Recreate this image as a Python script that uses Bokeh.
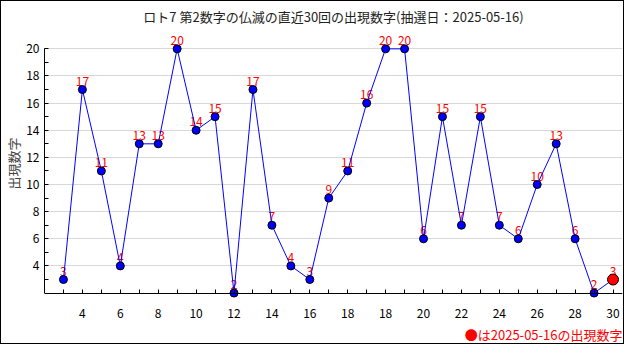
from bokeh.plotting import figure
from bokeh.models import FixedTicker, Title, Range1d, ColumnDataSource, LinearAxis
from bokeh.core.properties import value
from bokeh.embed import file_html
from bokeh.resources import INLINE

# ---- data ----
draw_index = list(range(1, 31))
numbers = [3, 17, 11, 4, 13, 13, 20, 14, 15, 2, 17, 7, 4, 3, 9, 11, 16, 20, 20, 6,
           15, 7, 15, 7, 6, 10, 13, 6, 2, 3]
x_tick_labels = ["4", "6", "8", "10", "12", "14", "16", "18", "18", "20",
                 "22", "24", "26", "28", "30"]
y_ticks = [4, 6, 8, 10, 12, 14, 16, 18, 20]
y_minor_ticks = [3, 5, 7, 9, 11, 13, 15, 17, 19]
title_text = "ロト7 第2数字の仏滅の直近30回の出現数字(抽選日：2025-05-16)"
note_text = "●は2025-05-16の出現数字"
y_label = "出現数字"

FONT = "Noto Sans CJK JP"

x_major = [draw_index[i] for i in range(1, len(draw_index), 2)]
x_minor = [draw_index[i] for i in range(0, len(draw_index), 2)]
Y_BASE = 2

p = figure(width=624, height=344,
           x_range=Range1d(0, 30.5), y_range=Range1d(1.6, 21.5),
           output_backend="svg", toolbar_location=None,
           min_border_left=28, min_border_right=3,
           min_border_top=22, min_border_bottom=46)
p.styles = {"border": "1px solid black"}
p.outline_line_color = None
p.background_fill_color = "white"
p.border_fill_color = "white"

# title
p.title.text = title_text
p.title.align = "center"
p.title.text_font = FONT
p.title.text_font_size = "13px"
p.title.text_font_style = "normal"
p.title.text_color = "#222222"
p.title.standoff = 6

# x axis line + ticks at the base value (inside the frame)
xa = p.xaxis[0]
xa.ticker = FixedTicker(ticks=x_major, minor_ticks=x_minor)
xa.fixed_location = Y_BASE
xa.major_label_text_font_size = "0px"
xa.major_label_text_color = None
xa.major_label_standoff = 0

# x axis labels below the frame
xl = LinearAxis(ticker=FixedTicker(ticks=x_major),
                major_label_overrides={t: lab for t, lab in zip(x_major, x_tick_labels)},
                axis_line_color=None, major_tick_line_color=None,
                minor_tick_line_color=None,
                major_label_text_font=FONT, major_label_text_font_size="12px",
                major_label_text_color="black", major_label_standoff=4)
p.add_layout(xl, "below")

p.add_layout(Title(text=note_text, align="right", text_color="#ff0000",
                   text_font=FONT, text_font_size="13px",
                   text_font_style="normal", standoff=4), "below")

p.yaxis.ticker = FixedTicker(ticks=y_ticks, minor_ticks=y_minor_ticks)
p.yaxis.bounds = (Y_BASE, 20)
p.yaxis.axis_label = y_label
p.yaxis.axis_label_text_font = FONT
p.yaxis.axis_label_text_font_size = "13px"
p.yaxis.axis_label_text_font_style = "normal"
p.yaxis.axis_label_standoff = 0
p.yaxis.major_label_text_font = FONT
p.yaxis.major_label_text_font_size = "12px"
p.yaxis.major_label_text_color = "black"
p.yaxis.major_label_standoff = 5
for ax in (xa, p.yaxis[0]):
    ax.axis_line_color = "black"
    ax.axis_line_width = 1
    ax.major_tick_in = 4
    ax.major_tick_out = 0
    ax.minor_tick_in = 4
    ax.minor_tick_out = 0
    ax.major_tick_line_color = "black"
    ax.minor_tick_line_color = "black"

p.xgrid.visible = False
p.ygrid.ticker = FixedTicker(ticks=y_ticks)
p.ygrid.grid_line_color = "#d8d8d8"
p.ygrid.grid_line_width = 1

src = ColumnDataSource(dict(x=draw_index, y=numbers,
                            label=[str(v) for v in numbers]))

p.text(x="x", y="y", text="label", source=src, text_color="#ff0000",
       text_font=value(FONT), text_font_size="12px",
       text_align="center", text_baseline="bottom", y_offset=-4)
p.line(x="x", y="y", source=src, line_color="#0000ff", line_width=1)
p.scatter(x=draw_index[:-1], y=numbers[:-1], size=8, fill_color="#0000ff",
          line_color="black", line_width=1)
p.scatter(x=[draw_index[-1]], y=[numbers[-1]], size=11, fill_color="#ff0000",
          line_color="black", line_width=1)

open("out.html", "w").write(file_html(p, INLINE))
